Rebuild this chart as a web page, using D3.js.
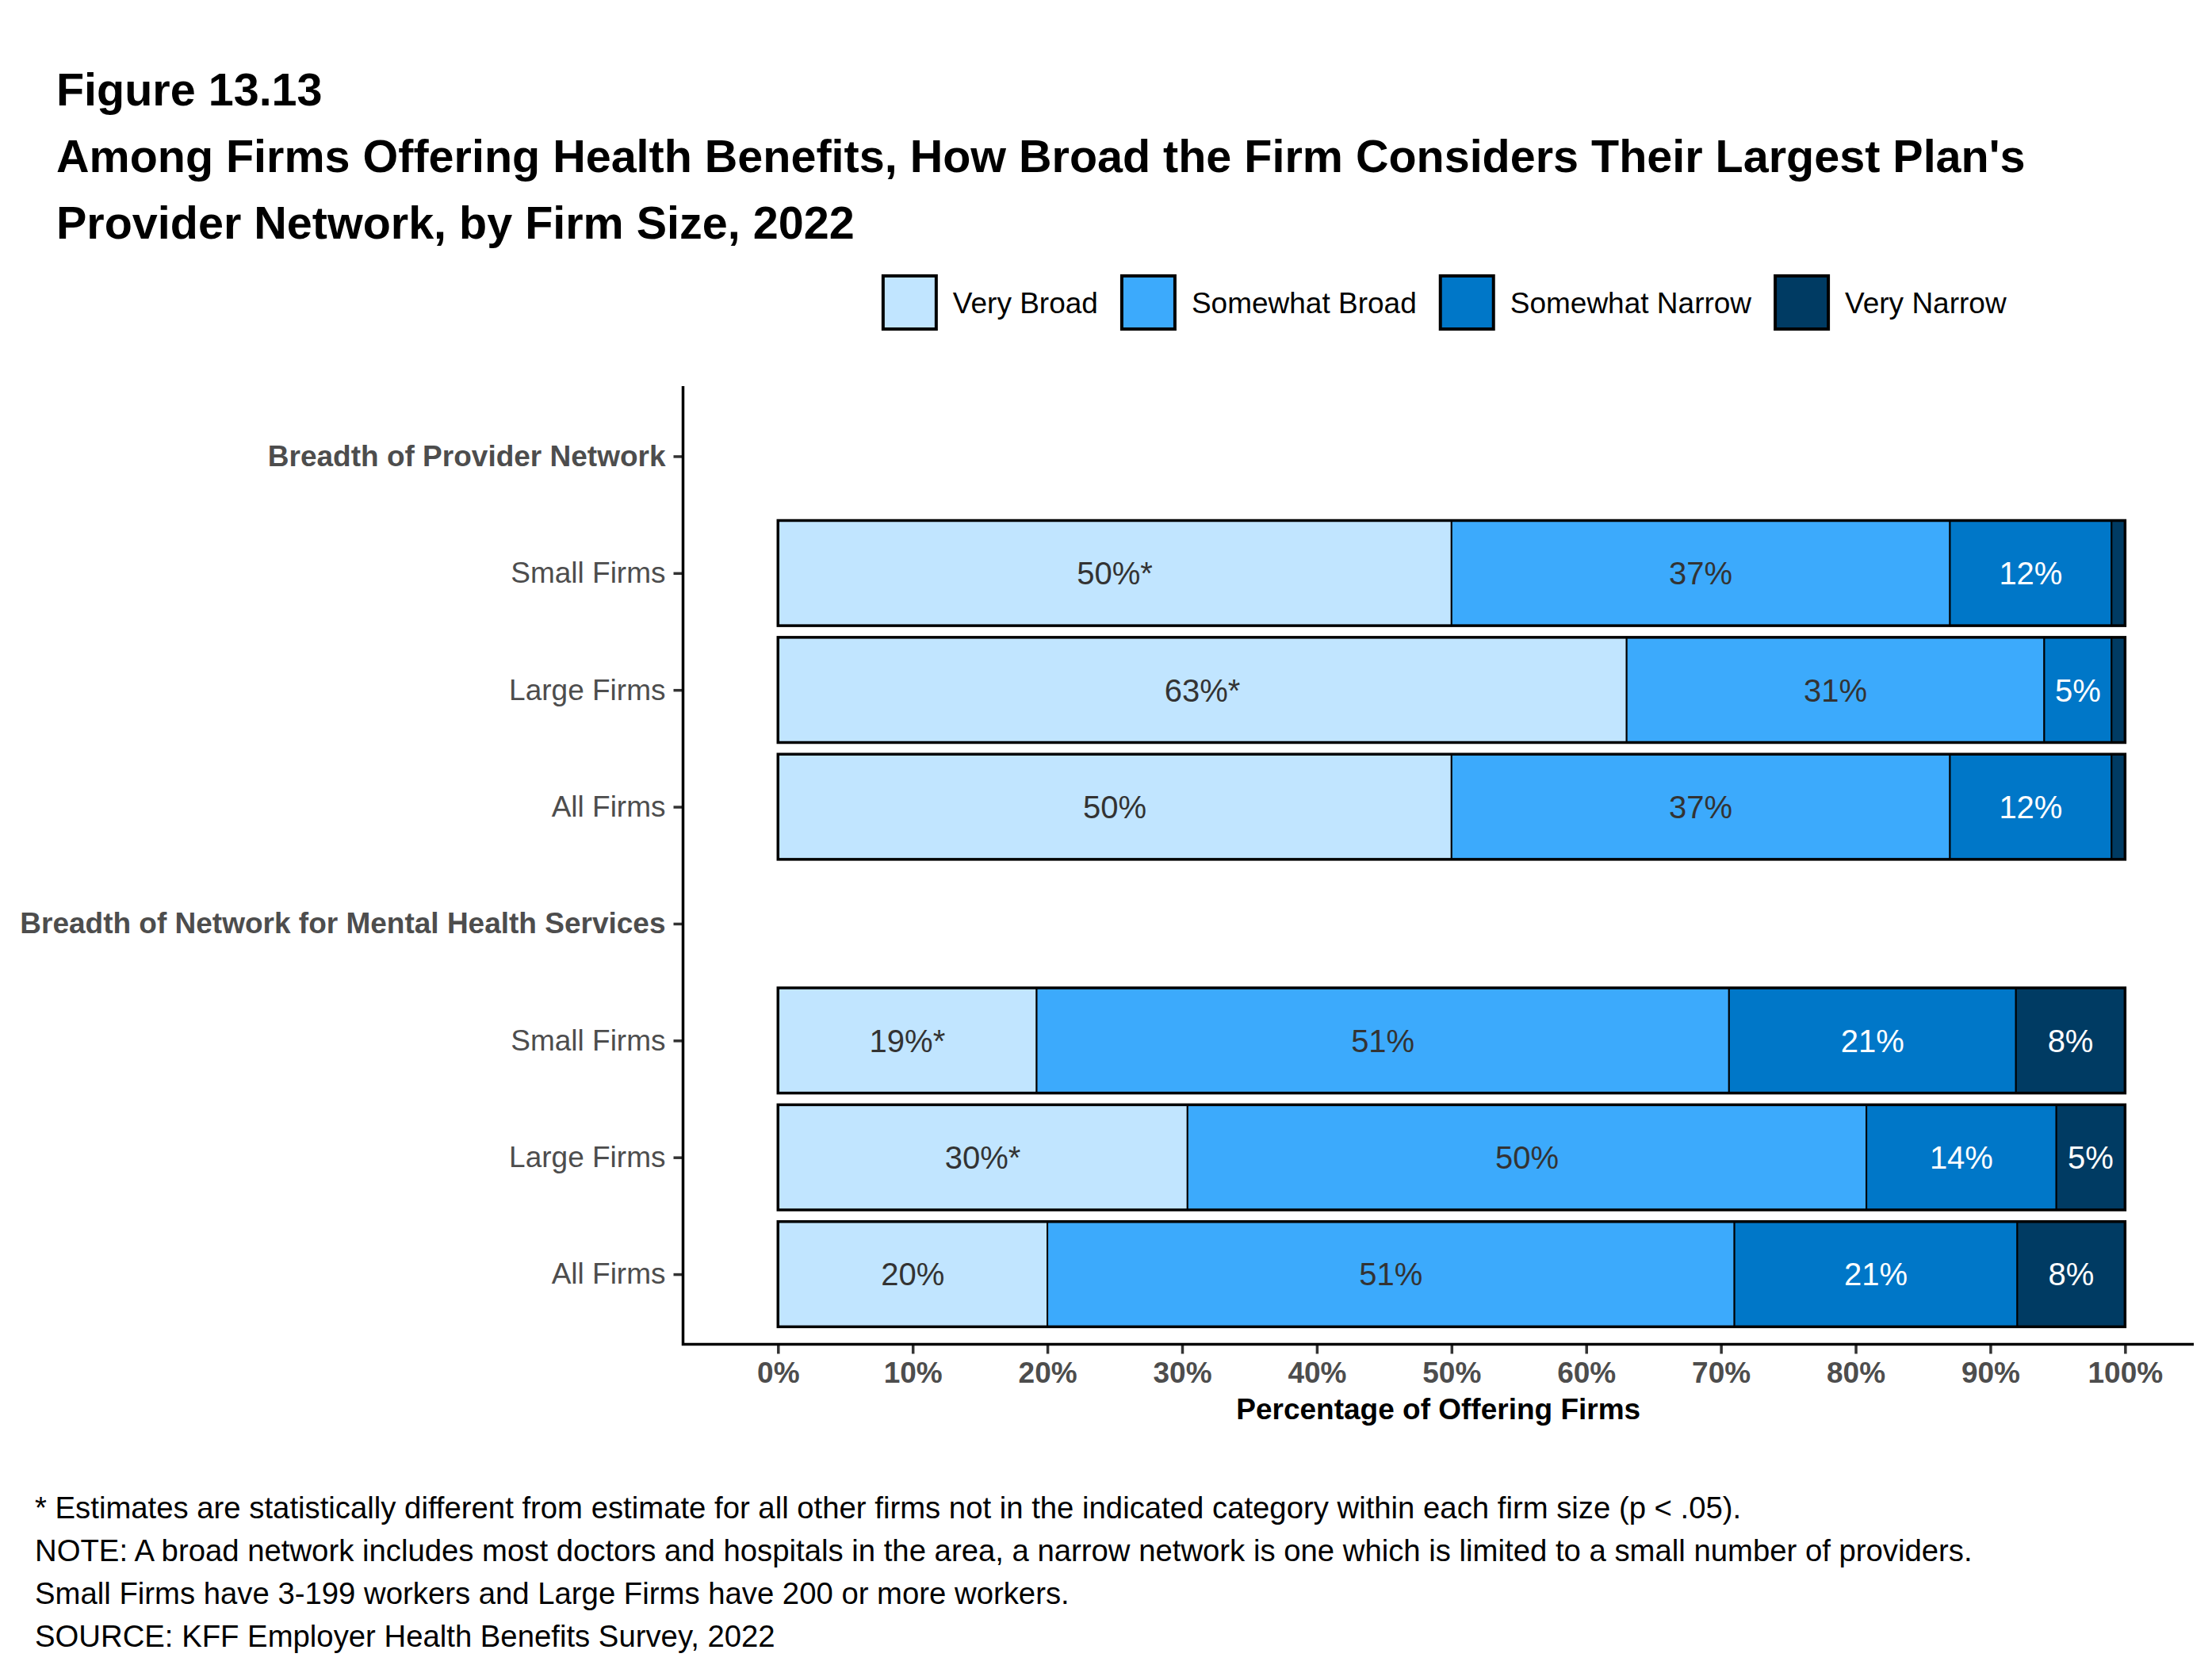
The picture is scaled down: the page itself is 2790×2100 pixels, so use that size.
<!DOCTYPE html>
<html>
<head>
<meta charset="utf-8">
<script src="https://cdn.jsdelivr.net/npm/d3@7"></script>
<style>
  body { margin: 0; background: #fff; }
  text { font-family: "Liberation Sans", Arial, sans-serif; }
</style>
</head>
<body>
<svg id="chart" width="2790" height="2100"></svg>
<script>
// rows of the chart, top to bottom (group headers carry no bar)
var rowLabels = ["Breadth of Provider Network", "Small Firms", "Large Firms", "All Firms",
  "Breadth of Network for Mental Health Services", "Small Firms", "Large Firms", "All Firms"];
var headerRows = [0, 4];

var seriesNames = ["Very Broad", "Somewhat Broad", "Somewhat Narrow", "Very Narrow"];
var veryBroad      = [null, 50, 63, 50, null, 19.2, 30.4, 20.0];
var somewhatBroad  = [null, 37, 31, 37, null, 51.4, 50.4, 51.0];
var somewhatNarrow = [null, 12, 5, 12, null, 21.3, 14.1, 21.0];
var veryNarrow     = [null, 1, 1, 1, null, 8.1, 5.1, 8.0];
// rows where the Very Broad estimate is flagged with *
var starredRows = [1, 2, 5, 6];

var xTicks = [0, 10, 20, 30, 40, 50, 60, 70, 80, 90, 100];

var colors = ["#c1e5ff", "#3caafc", "#0077c8", "#003b63"];
var labelColors = ["#333333", "#333333", "#ffffff", "#ffffff"];

var footnotes = [
  "* Estimates are statistically different from estimate for all other firms not in the indicated category within each firm size (p < .05).",
  "NOTE: A broad network includes most doctors and hospitals in the area, a narrow network is one which is limited to a small number of providers.",
  "Small Firms have 3-199 workers and Large Firms have 200 or more workers.",
  "SOURCE: KFF Employer Health Benefits Survey, 2022"
];

var svg = d3.select('#chart');

// title
var title = ["Figure 13.13",
  "Among Firms Offering Health Benefits, How Broad the Firm Considers Their Largest Plan's",
  "Provider Network, by Firm Size, 2022"];
svg.selectAll('text.title')
  .data(title)
  .enter()
  .append('text')
  .attr('class', 'title')
  .attr('x', 71)
  .attr('y', function (d, i) { return 133 + i * 84; })
  .attr('font-size', 57.5)
  .attr('font-weight', 'bold')
  .attr('fill', '#000')
  .text(function (d) { return d; });

var panelL = 861.5, panelR = 2767, panelT = 487, panelB = 1695.5;

var x = d3.scaleLinear()
  .domain([-7.05, 105.1])
  .range([panelL, panelR]);

// row centres, ggplot style discrete expansion
var y = d3.scalePoint()
  .domain(d3.range(rowLabels.length))
  .range([panelT, panelB])
  .padding(0.6);
var barH = y.step() * 0.9;

// stack the series per row
var seriesValues = [veryBroad, somewhatBroad, somewhatNarrow, veryNarrow];
var rows = d3.range(rowLabels.length).filter(function (i) { return headerRows.indexOf(i) < 0; });
var table = rows.map(function (i) {
  var o = { row: i };
  seriesNames.forEach(function (s, k) { o[s] = seriesValues[k][i]; });
  return o;
});
var stacked = d3.stack().keys(seriesNames)(table);

var layer = svg.append('g').selectAll('g')
  .data(stacked)
  .enter()
  .append('g')
  .attr('fill', function (d, k) { return colors[k]; });

layer.selectAll('rect')
  .data(function (d) { return d; })
  .enter()
  .append('rect')
  .attr('x', function (d) { return x(d[0]); })
  .attr('width', function (d) { return x(d[1]) - x(d[0]); })
  .attr('y', function (d) { return y(d.data.row) - barH / 2; })
  .attr('height', barH)
  .attr('stroke', '#000')
  .attr('stroke-width', 2);

// heavier outline round each bar
svg.append('g').selectAll('rect')
  .data(rows)
  .enter()
  .append('rect')
  .attr('x', x(0))
  .attr('width', x(100) - x(0))
  .attr('y', function (d) { return y(d) - barH / 2; })
  .attr('height', barH)
  .attr('fill', 'none')
  .attr('stroke', '#000')
  .attr('stroke-width', 3.5);

// segment labels
layer.each(function (s, k) {
  d3.select(this).selectAll('text')
    .data(s.filter(function (d) { return d[1] - d[0] >= 3; }))
    .enter()
    .append('text')
    .attr('x', function (d) { return x((d[0] + d[1]) / 2); })
    .attr('y', function (d) { return y(d.data.row); })
    .attr('dy', '0.36em')
    .attr('text-anchor', 'middle')
    .attr('font-size', 40)
    .attr('fill', labelColors[k])
    .text(function (d) {
      var star = (k === 0 && starredRows.indexOf(d.data.row) >= 0) ? '*' : '';
      return Math.round(d[1] - d[0]) + '%' + star;
    });
});

// y axis
var yAxis = svg.append('g')
  .attr('transform', 'translate(' + panelL + ',0)')
  .call(d3.axisLeft(y).tickSize(12).tickPadding(10)
    .tickFormat(function (i) { return rowLabels[i]; }));
yAxis.select('.domain').remove();
yAxis.selectAll('.tick line').attr('stroke', '#333').attr('stroke-width', 3.5);
yAxis.selectAll('.tick text')
  .attr('font-size', 37)
  .attr('fill', '#4d4d4d')
  .attr('font-weight', function (i) { return headerRows.indexOf(i) >= 0 ? 'bold' : 'normal'; })
  .attr('font-family', '"Liberation Sans", Arial, sans-serif');

// x axis
var xAxis = svg.append('g')
  .attr('transform', 'translate(0,' + panelB + ')')
  .call(d3.axisBottom(x).tickValues(xTicks).tickSize(12).tickPadding(10)
    .tickFormat(function (d) { return d + '%'; }));
xAxis.select('.domain').remove();
xAxis.selectAll('.tick line').attr('stroke', '#333').attr('stroke-width', 3.5);
xAxis.selectAll('.tick text')
  .attr('font-size', 37)
  .attr('font-weight', 'bold')
  .attr('fill', '#4d4d4d')
  .attr('font-family', '"Liberation Sans", Arial, sans-serif');

// axis lines
svg.append('path')
  .attr('d', 'M' + panelL + ',' + panelT + 'V' + panelB + 'H' + panelR)
  .attr('fill', 'none')
  .attr('stroke', '#000')
  .attr('stroke-width', 3.5);

svg.append('text')
  .attr('x', (panelL + panelR) / 2)
  .attr('y', 1790)
  .attr('text-anchor', 'middle')
  .attr('font-size', 37)
  .attr('font-weight', 'bold')
  .attr('fill', '#000')
  .text('Percentage of Offering Firms');

// legend, centred over the panel
var legend = svg.append('g');
var keys = legend.selectAll('g')
  .data(seriesNames)
  .enter()
  .append('g');
keys.append('rect')
  .attr('width', 67)
  .attr('height', 67)
  .attr('fill', function (d, k) { return colors[k]; })
  .attr('stroke', '#000')
  .attr('stroke-width', 4);
keys.append('text')
  .attr('x', 88)
  .attr('y', 33.5)
  .attr('dy', '0.36em')
  .attr('font-size', 37)
  .attr('fill', '#000')
  .text(function (d) { return d; });
var pos = 0;
keys.each(function () {
  var w = d3.select(this).select('text').node().getComputedTextLength();
  d3.select(this).attr('transform', 'translate(' + pos + ',0)');
  pos += 88 + w + 30;
});
var legendWidth = pos - 30;
legend.attr('transform', 'translate(' + ((panelL + panelR) / 2 - legendWidth / 2 + 8) + ',348)');

// footnotes
svg.selectAll('text.note')
  .data(footnotes)
  .enter()
  .append('text')
  .attr('class', 'note')
  .attr('x', 44)
  .attr('y', function (d, i) { return 1915 + i * 54; })
  .attr('font-size', 38.3)
  .attr('fill', '#000')
  .text(function (d) { return d; });
</script>
</body>
</html>
